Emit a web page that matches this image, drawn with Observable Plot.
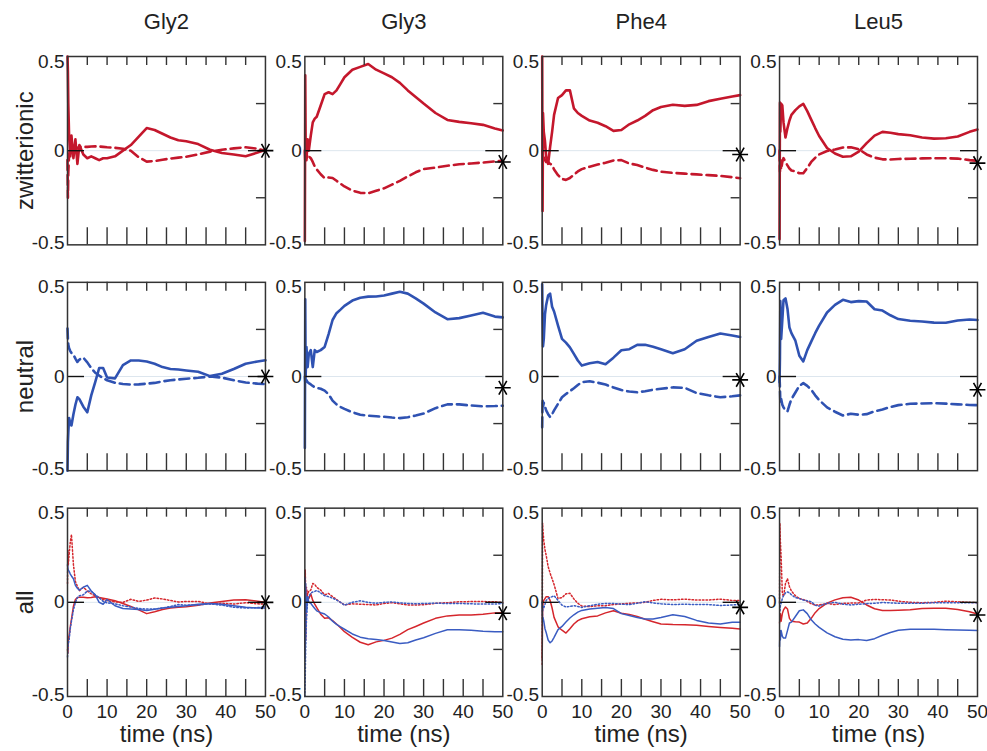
<!DOCTYPE html>
<html><head><meta charset="utf-8">
<script src="https://cdn.jsdelivr.net/npm/d3@7"></script>
<script src="https://cdn.jsdelivr.net/npm/@observablehq/plot@0.6"></script>
<style>html,body{margin:0;padding:0;background:#fff;}</style>
</head><body><div id="chart"></div>
<script>
const residues = ["Gly2", "Gly3", "Phe4", "Leu5"];
const states = ["zwitterionic", "neutral", "all"];
const time = [0, 0.1, 0.2, 0.4, 0.7, 1, 1.5, 2, 2.5, 3, 4, 5, 6, 7, 8, 9, 10, 12, 14, 16, 18, 20, 22, 24, 26, 28, 30, 33, 36, 39, 42, 45, 48, 50];
const xTickValues = [0, 10, 20, 30, 40, 50];
const xMinorTicks = [5, 10, 15, 20, 25, 30, 35, 40, 45];
const yTickValues = [0.5, 0, -0.5];
const yTickLabels = ["0.5", "0", "-0.5"];
const starTime = 50;
const starZw = [0, -0.06, -0.02, -0.066];
const starNeutral = [0, -0.06, -0.018, -0.07];
const starAll = [0, -0.058, -0.027, -0.067];

// zwitterionic (red): solid and dashed
const zwSolidGly2 = [0.5, 0.42, 0.25, 0.08, -0.03, 0.08, -0.04, 0.06, -0.07, 0.03, -0.02, -0.04, -0.03, -0.04, -0.05, -0.04, -0.04, -0.03, 0.0, 0.03, 0.075, 0.12, 0.11, 0.09, 0.07, 0.055, 0.05, 0.035, 0.005, -0.012, -0.02, -0.03, -0.01, 0.005];
const zwDashGly2 = [-0.05, -0.25, -0.12, -0.02, 0.01, 0.02, 0.01, 0.02, 0.015, 0.02, 0.02, 0.02, 0.022, 0.023, 0.022, 0.02, 0.018, 0.015, 0.01, 0.0, -0.035, -0.058, -0.055, -0.048, -0.042, -0.037, -0.032, -0.02, -0.005, 0.005, 0.012, 0.018, 0.01, 0.0];
const zwSolidGly3 = [-0.48, 0.4, 0.05, -0.05, 0.06, 0.0, 0.08, 0.15, 0.17, 0.18, 0.24, 0.3, 0.31, 0.3, 0.32, 0.355, 0.39, 0.43, 0.445, 0.46, 0.43, 0.41, 0.39, 0.36, 0.32, 0.285, 0.25, 0.2, 0.163, 0.153, 0.146, 0.137, 0.118, 0.107];
const zwDashGly3 = [0.0, -0.05, 0.03, -0.04, -0.02, -0.03, -0.04, -0.06, -0.084, -0.1, -0.125, -0.146, -0.142, -0.145, -0.16, -0.175, -0.19, -0.212, -0.224, -0.226, -0.213, -0.2, -0.18, -0.16, -0.137, -0.115, -0.098, -0.09, -0.08, -0.072, -0.068, -0.063, -0.057, -0.054];
const zwSolidPhe4 = [0.5, -0.32, 0.2, 0.1, 0.05, -0.03, -0.07, 0.02, 0.1, 0.19, 0.28, 0.295, 0.32, 0.32, 0.225, 0.2, 0.185, 0.16, 0.148, 0.13, 0.105, 0.11, 0.14, 0.16, 0.185, 0.215, 0.232, 0.244, 0.238, 0.243, 0.263, 0.276, 0.288, 0.295];
const zwDashPhe4 = [0.0, -0.02, -0.05, -0.03, -0.05, -0.06, -0.06, -0.07, -0.075, -0.1, -0.13, -0.15, -0.155, -0.145, -0.128, -0.11, -0.098, -0.085, -0.074, -0.064, -0.052, -0.05, -0.068, -0.076, -0.09, -0.102, -0.112, -0.118, -0.122, -0.126, -0.13, -0.134, -0.141, -0.146];
const zwSolidLeu5 = [-0.47, 0.255, 0.1, 0.25, 0.24, 0.15, 0.07, 0.12, 0.16, 0.19, 0.215, 0.235, 0.248, 0.21, 0.165, 0.12, 0.078, 0.014, -0.015, -0.032, -0.03, -0.005, 0.04, 0.08, 0.1, 0.095, 0.088, 0.082, 0.07, 0.064, 0.066, 0.075, 0.1, 0.112];
const zwDashLeu5 = [0.0, -0.11, -0.05, -0.1, -0.06, -0.04, -0.06, -0.078, -0.095, -0.105, -0.11, -0.12, -0.12, -0.092, -0.06, -0.038, -0.02, -0.002, 0.006, 0.017, 0.018, 0.008, -0.02, -0.037, -0.046, -0.047, -0.044, -0.043, -0.041, -0.04, -0.04, -0.042, -0.05, -0.054];

// neutral (blue): solid and dashed
const nSolidGly2 = [-0.5, -0.35, -0.3, -0.22, -0.25, -0.26, -0.2, -0.15, -0.11, -0.12, -0.16, -0.19, -0.1, -0.03, 0.045, 0.045, -0.005, -0.01, 0.06, 0.085, 0.085, 0.08, 0.068, 0.05, 0.04, 0.037, 0.032, 0.025, 0.002, 0.015, 0.04, 0.068, 0.08, 0.086];
const nDashGly2 = [0.255, 0.2, 0.17, 0.15, 0.135, 0.125, 0.115, 0.095, 0.077, 0.09, 0.1, 0.075, 0.045, 0.02, 0.005, -0.008, -0.02, -0.033, -0.04, -0.043, -0.042, -0.038, -0.034, -0.026, -0.02, -0.016, -0.012, -0.007, 0.0, -0.006, -0.02, -0.032, -0.038, -0.04];
const nSolidGly3 = [-0.38, 0.41, 0.0, 0.157, 0.05, 0.12, 0.14, 0.05, 0.14, 0.13, 0.14, 0.157, 0.225, 0.3, 0.336, 0.355, 0.375, 0.403, 0.418, 0.424, 0.425, 0.43, 0.44, 0.45, 0.44, 0.415, 0.387, 0.34, 0.304, 0.31, 0.324, 0.338, 0.318, 0.314];
const nDashGly3 = [0.0, -0.03, 0.0, -0.02, -0.03, -0.035, -0.042, -0.05, -0.057, -0.06, -0.065, -0.075, -0.095, -0.128, -0.148, -0.162, -0.172, -0.19, -0.203, -0.208, -0.211, -0.214, -0.218, -0.221, -0.216, -0.207, -0.197, -0.168, -0.148, -0.148, -0.154, -0.158, -0.157, -0.155];
const nSolidPhe4 = [0.49, 0.3, 0.16, 0.2, 0.33, 0.38, 0.43, 0.44, 0.37, 0.345, 0.27, 0.2, 0.18, 0.155, 0.12, 0.085, 0.058, 0.07, 0.077, 0.065, 0.1, 0.139, 0.145, 0.168, 0.168, 0.158, 0.145, 0.124, 0.145, 0.19, 0.21, 0.228, 0.218, 0.21];
const nDashPhe4 = [-0.27, -0.12, -0.16, -0.14, -0.16, -0.18, -0.2, -0.215, -0.2, -0.18, -0.145, -0.11, -0.093, -0.078, -0.062, -0.045, -0.03, -0.025, -0.033, -0.043, -0.058, -0.072, -0.08, -0.084, -0.078, -0.07, -0.065, -0.058, -0.06, -0.088, -0.1, -0.11, -0.105, -0.1];
const nSolidLeu5 = [-0.03, 0.1, 0.4, 0.2, 0.3, 0.405, 0.415, 0.36, 0.26, 0.23, 0.19, 0.11, 0.08, 0.14, 0.185, 0.23, 0.27, 0.34, 0.38, 0.407, 0.395, 0.4, 0.398, 0.357, 0.35, 0.325, 0.305, 0.296, 0.292, 0.286, 0.285, 0.297, 0.303, 0.3];
const nDashLeu5 = [0.0, -0.06, -0.14, -0.12, -0.15, -0.164, -0.18, -0.185, -0.15, -0.12, -0.085, -0.05, -0.035, -0.05, -0.07, -0.1, -0.125, -0.164, -0.187, -0.207, -0.198, -0.203, -0.2, -0.185, -0.175, -0.162, -0.152, -0.145, -0.143, -0.142, -0.144, -0.148, -0.151, -0.152];

// all: red solid, red dotted, blue solid, blue dotted
const aRedGly2 = [-0.25, -0.27, -0.2, -0.18, -0.13, -0.09, -0.02, 0.015, 0.025, 0.027, 0.027, 0.024, 0.026, 0.03, 0.026, 0.022, 0.018, 0.008, -0.006, -0.022, -0.04, -0.06, -0.05, -0.038, -0.03, -0.026, -0.023, -0.015, -0.004, 0.004, 0.012, 0.014, 0.006, 0.0];
const aRedDotGly2 = [0.1, 0.28, 0.2, 0.25, 0.32, 0.36, 0.2, 0.11, 0.085, 0.062, 0.08, 0.06, 0.045, 0.035, 0.025, 0.015, 0.009, 0.002, 0.0, 0.016, 0.005, 0.012, 0.023, 0.018, 0.01, 0.002, 0.005, 0.005, -0.008, -0.005, -0.009, -0.002, -0.008, -0.009];
const aBlueGly2 = [0.2, 0.18, 0.17, 0.165, 0.15, 0.14, 0.125, 0.09, 0.075, 0.065, 0.08, 0.09, 0.06, 0.04, 0.0, -0.01, 0.015, -0.018, -0.033, -0.035, -0.038, -0.043, -0.037, -0.03, -0.026, -0.022, -0.018, -0.01, -0.006, -0.01, -0.018, -0.026, -0.03, -0.03];
const aBlueDotGly2 = [-0.29, -0.25, -0.22, -0.2, -0.14, -0.1, -0.04, 0.0, 0.025, 0.035, 0.04, 0.06, 0.058, 0.04, 0.025, 0.005, -0.003, -0.008, -0.018, -0.025, -0.033, -0.036, -0.036, -0.03, -0.022, -0.012, -0.015, -0.014, -0.008, -0.015, -0.026, -0.03, -0.028, -0.023];
const aRedGly3 = [-0.25, 0.17, -0.2, 0.05, 0.03, 0.02, 0.045, 0.01, -0.01, -0.028, -0.063, -0.085, -0.082, -0.097, -0.115, -0.135, -0.156, -0.186, -0.212, -0.225, -0.21, -0.202, -0.19, -0.17, -0.145, -0.128, -0.11, -0.085, -0.072, -0.067, -0.067, -0.063, -0.056, -0.055];
const aRedDotGly3 = [0.0, 0.17, 0.05, 0.08, 0.04, 0.06, 0.065, 0.1, 0.095, 0.08, 0.065, 0.04, 0.047, 0.03, 0.015, 0.0, -0.014, -0.008, -0.01, -0.012, -0.014, -0.006, -0.002, -0.008, -0.014, -0.014, -0.013, -0.005, -0.002, 0.003, 0.004, 0.004, 0.003, -0.001];
const aBlueGly3 = [0.13, -0.3, 0.1, -0.05, 0.03, 0.0, -0.005, -0.02, -0.033, -0.045, -0.055, -0.062, -0.078, -0.1, -0.117, -0.13, -0.143, -0.168, -0.185, -0.193, -0.197, -0.203, -0.211, -0.219, -0.215, -0.2, -0.188, -0.165, -0.146, -0.145, -0.148, -0.153, -0.156, -0.156];
const aBlueDotGly3 = [-0.5, -0.4, -0.25, -0.1, 0.01, 0.03, 0.048, 0.055, 0.058, 0.063, 0.05, 0.035, 0.03, 0.022, 0.012, 0.0, -0.015, 0.0, 0.008, 0.0, -0.005, 0.0, 0.002, -0.003, -0.006, -0.008, -0.006, -0.005, -0.006, -0.006, -0.008, -0.009, -0.009, -0.006];
const aRedPhe4 = [-0.3, -0.05, 0.0, 0.01, 0.02, 0.03, 0.03, 0.01, -0.03, -0.08, -0.13, -0.148, -0.163, -0.14, -0.115, -0.097, -0.087, -0.077, -0.072, -0.056, -0.045, -0.058, -0.064, -0.075, -0.09, -0.103, -0.115, -0.118, -0.119, -0.122, -0.128, -0.133, -0.138, -0.142];
const aRedDotPhe4 = [-0.33, 0.42, 0.38, 0.33, 0.28, 0.25, 0.19, 0.155, 0.125, 0.095, 0.02, 0.025, 0.045, 0.048, 0.018, -0.005, -0.02, -0.023, -0.018, -0.018, -0.012, -0.008, -0.005, -0.003, 0.0, 0.01, 0.016, 0.013, 0.017, 0.012, 0.012, 0.017, 0.01, 0.009];
const aBluePhe4 = [0.0, -0.1, -0.08, -0.1, -0.14, -0.16, -0.2, -0.215, -0.205, -0.186, -0.145, -0.128, -0.105, -0.083, -0.066, -0.052, -0.043, -0.036, -0.031, -0.028, -0.033, -0.06, -0.07, -0.08, -0.088, -0.088, -0.08, -0.066, -0.075, -0.096, -0.11, -0.115, -0.106, -0.106];
const aBlueDotPhe4 = [0.0, -0.05, -0.02, -0.03, -0.01, 0.01, 0.02, 0.027, 0.03, 0.035, 0.01, -0.015, -0.025, -0.022, -0.018, -0.022, -0.027, -0.018, -0.01, -0.006, -0.006, -0.01, -0.012, -0.005, 0.003, -0.003, -0.008, -0.012, -0.01, -0.012, -0.012, -0.017, -0.014, -0.012];
const aRedLeu5 = [-0.11, -0.09, -0.06, -0.1, -0.06, -0.04, -0.025, -0.035, -0.085, -0.1, -0.103, -0.105, -0.115, -0.11, -0.085, -0.055, -0.033, -0.004, 0.013, 0.024, 0.027, 0.012, -0.014, -0.034, -0.043, -0.044, -0.042, -0.039, -0.033, -0.032, -0.032, -0.038, -0.05, -0.062];
const aRedDotLeu5 = [0.0, 0.42, 0.33, 0.24, 0.05, 0.03, 0.1, 0.125, 0.083, 0.06, 0.035, 0.02, 0.015, 0.005, -0.008, -0.014, -0.014, -0.006, -0.012, -0.005, -0.004, -0.003, 0.012, 0.015, 0.014, 0.012, 0.006, 0.0, -0.002, 0.0, 0.006, 0.003, 0.0, -0.002];
const aBlueLeu5 = [-0.235, -0.15, -0.2, -0.15, -0.18, -0.19, -0.19, -0.15, -0.11, -0.105, -0.075, -0.045, -0.04, -0.06, -0.093, -0.115, -0.133, -0.162, -0.183, -0.196, -0.2, -0.198, -0.203, -0.193, -0.175, -0.16, -0.148, -0.143, -0.143, -0.143, -0.145, -0.147, -0.148, -0.15];
const aBlueDotLeu5 = [0.0, -0.05, -0.02, -0.005, 0.02, 0.035, 0.05, 0.055, 0.051, 0.04, 0.025, 0.02, 0.012, 0.008, 0.003, -0.015, -0.02, -0.005, 0.0, -0.01, -0.014, -0.01, -0.007, -0.005, -0.001, -0.003, -0.005, -0.005, -0.005, -0.002, -0.002, -0.002, -0.002, -0.002];

const seriesDefs = [
  ["Gly2", "zwitterionic", "zwSolid", zwSolidGly2], ["Gly2", "zwitterionic", "zwDash", zwDashGly2],
  ["Gly3", "zwitterionic", "zwSolid", zwSolidGly3], ["Gly3", "zwitterionic", "zwDash", zwDashGly3],
  ["Phe4", "zwitterionic", "zwSolid", zwSolidPhe4], ["Phe4", "zwitterionic", "zwDash", zwDashPhe4],
  ["Leu5", "zwitterionic", "zwSolid", zwSolidLeu5], ["Leu5", "zwitterionic", "zwDash", zwDashLeu5],
  ["Gly2", "neutral", "nSolid", nSolidGly2], ["Gly2", "neutral", "nDash", nDashGly2],
  ["Gly3", "neutral", "nSolid", nSolidGly3], ["Gly3", "neutral", "nDash", nDashGly3],
  ["Phe4", "neutral", "nSolid", nSolidPhe4], ["Phe4", "neutral", "nDash", nDashPhe4],
  ["Leu5", "neutral", "nSolid", nSolidLeu5], ["Leu5", "neutral", "nDash", nDashLeu5],
  ["Gly2", "all", "aRed", aRedGly2], ["Gly2", "all", "aRedDot", aRedDotGly2], ["Gly2", "all", "aBlue", aBlueGly2], ["Gly2", "all", "aBlueDot", aBlueDotGly2],
  ["Gly3", "all", "aRed", aRedGly3], ["Gly3", "all", "aRedDot", aRedDotGly3], ["Gly3", "all", "aBlue", aBlueGly3], ["Gly3", "all", "aBlueDot", aBlueDotGly3],
  ["Phe4", "all", "aRed", aRedPhe4], ["Phe4", "all", "aRedDot", aRedDotPhe4], ["Phe4", "all", "aBlue", aBluePhe4], ["Phe4", "all", "aBlueDot", aBlueDotPhe4],
  ["Leu5", "all", "aRed", aRedLeu5], ["Leu5", "all", "aRedDot", aRedDotLeu5], ["Leu5", "all", "aBlue", aBlueLeu5], ["Leu5", "all", "aBlueDot", aBlueDotLeu5]
];
const bad = seriesDefs.filter(d => d[3].length !== time.length).map(d => d[0] + d[1] + d[2] + ":" + d[3].length);
if (bad.length) throw new Error("length mismatch " + bad.join(", "));

const rows = seriesDefs.flatMap(([res, state, style, vals]) =>
  time.map((t, i) => ({t, v: vals[i], res, state, style, key: res + state + style})));

const styles = {
  zwSolid: {stroke: "#c4172c", strokeWidth: 2.6},
  zwDash: {stroke: "#c4172c", strokeWidth: 2.6, strokeDasharray: "10,5"},
  nSolid: {stroke: "#2f52b2", strokeWidth: 2.6},
  nDash: {stroke: "#2f52b2", strokeWidth: 2.6, strokeDasharray: "10,5"},
  aRed: {stroke: "#d5262c", strokeWidth: 1.5},
  aRedDot: {stroke: "#d5262c", strokeWidth: 1.5, strokeDasharray: "1.5,2"},
  aBlue: {stroke: "#3a5cc2", strokeWidth: 1.5},
  aBlueDot: {stroke: "#3a5cc2", strokeWidth: 1.5, strokeDasharray: "1.5,2"}
};

const stars = [
  ...residues.map((r, i) => ({res: r, state: "zwitterionic", t: starTime, v: starZw[i]})),
  ...residues.map((r, i) => ({res: r, state: "neutral", t: starTime, v: starNeutral[i]})),
  ...residues.map((r, i) => ({res: r, state: "all", t: starTime, v: starAll[i]}))
];

const W = 987, H = 751, mL = 67, mR = 10, mT = 56, mB = 55, pad = 0.166;
const bwX = (W - mL - mR) / (residues.length - pad) * (1 - pad);
const bwY = (H - mT - mB) / (states.length - pad) * (1 - pad);
const ink = "#333";
const font = "'Liberation Sans', Arial, Helvetica, sans-serif";
const yLabelShift = [5, 0, -2];

const lineMarks = Object.entries(styles).map(([s, st]) =>
  Plot.line(rows.filter(d => d.style === s), {x: "t", y: "v", fx: "res", fy: "state", z: "key", ...st, strokeLinejoin: "round"}));

const yLabelMarks = yTickValues.map((v, i) =>
  Plot.text([v], {y: d => d, text: () => yTickLabels[i], frameAnchor: "left", textAnchor: "end", lineAnchor: "middle",
    dx: -3, dy: yLabelShift[i], fontSize: 19, fill: "#222"}));

const chart = Plot.plot({
  width: W, height: H,
  marginLeft: mL, marginRight: mR, marginTop: mT, marginBottom: mB,
  style: {fontFamily: font, background: "#fff", color: "#222"},
  fx: {domain: residues, paddingInner: pad, paddingOuter: 0, round: false, axis: null},
  fy: {domain: states, paddingInner: pad, paddingOuter: 0, round: false, axis: null},
  x: {domain: [0, 50], axis: null},
  y: {domain: [-0.5, 0.5], axis: null},
  marks: [
    Plot.ruleY([0], {stroke: "#dde6ee", strokeWidth: 1}),
    ...lineMarks,
    Plot.tickX(xMinorTicks, {x: d => d, insetTop: bwY - 17, stroke: ink, strokeWidth: 1.4}),
    Plot.tickX(xMinorTicks, {x: d => d, insetBottom: bwY - 9, stroke: ink, strokeWidth: 1.4}),
    Plot.tickY([0], {y: d => d, insetRight: bwX - 17, stroke: "#111", strokeWidth: 1.4}),
    Plot.tickY([0], {y: d => d, insetLeft: bwX - 17, stroke: "#111", strokeWidth: 1.4}),
    Plot.tickY([0.25, -0.25], {y: d => d, insetLeft: bwX - 9, stroke: ink, strokeWidth: 1.4}),
    Plot.frame({stroke: ink, strokeWidth: 1.5}),
    Plot.dot(stars, {x: "t", y: "v", fx: "res", fy: "state", symbol: "asterisk", r: 7.5, stroke: "#000", strokeWidth: 1.6, rotate: 90}),
    ...yLabelMarks,
    Plot.text(residues.flatMap(r => xTickValues.map(v => ({res: r, state: "all", v}))),
      {fx: "res", fy: "state", x: "v", text: d => String(d.v), frameAnchor: "bottom", lineAnchor: "middle", textAnchor: "middle", dy: 15, fontSize: 19, fill: "#222"}),
    Plot.text(residues.map(r => ({res: r, state: "all"})),
      {fx: "res", fy: "state", text: () => "time (ns)", frameAnchor: "bottom", lineAnchor: "middle", textAnchor: "middle", dy: 38, fontSize: 24, fill: "#222"}),
    Plot.text(residues.map(r => ({res: r, state: "zwitterionic"})),
      {fx: "res", fy: "state", text: "res", frameAnchor: "top", lineAnchor: "middle", textAnchor: "middle", dy: -35, fontSize: 22, fill: "#222"}),
    Plot.text(states.map(s => ({res: "Gly2", state: s})),
      {fx: "res", fy: "state", text: "state", frameAnchor: "left", lineAnchor: "middle", textAnchor: "middle", dx: -42, rotate: -90, fontSize: 24, fill: "#222"})
  ]
});
document.getElementById("chart").appendChild(chart);
</script></body></html>
